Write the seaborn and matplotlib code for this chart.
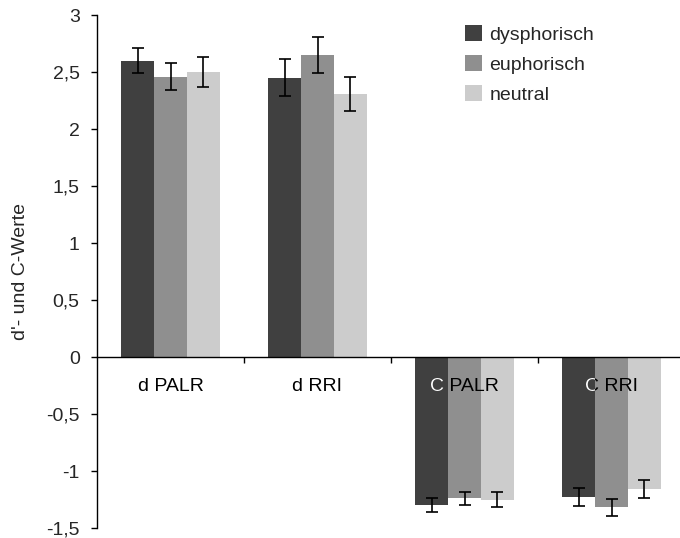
import matplotlib
matplotlib.use("Agg")
import matplotlib.pyplot as plt
from matplotlib.patches import Patch
import seaborn as sns
import pandas as pd

categories = ["d PALR", "d RRI", "C PALR", "C RRI"]
groups = ["dysphorisch", "euphorisch", "neutral"]
dysphorisch = [2.60, 2.45, -1.30, -1.23]
euphorisch = [2.46, 2.65, -1.24, -1.32]
neutral = [2.50, 2.31, -1.25, -1.16]
err_dysphorisch = [0.11, 0.16, 0.06, 0.08]
err_euphorisch = [0.12, 0.155, 0.06, 0.075]
err_neutral = [0.13, 0.15, 0.07, 0.08]
y_ticks = [-1.5, -1, -0.5, 0, 0.5, 1, 1.5, 2, 2.5, 3]
y_tick_labels = ["-1,5", "-1", "-0,5", "0", "0,5", "1", "1,5", "2", "2,5", "3"]
colors = ["#404040", "#8f8f8f", "#cccccc"]
y_label = "d'- und C-Werte"

sns.set_style("white")
plt.rcParams["font.family"] = ["Liberation Sans", "DejaVu Sans"]
FS = 14

values = [dysphorisch, euphorisch, neutral]
errors = [err_dysphorisch, err_euphorisch, err_neutral]
rows = []
for g, vals in zip(groups, values):
    for c, v in zip(categories, vals):
        rows.append({"Kategorie": c, "Gruppe": g, "Wert": v})
df = pd.DataFrame(rows)

AX_L = 97
fig = plt.figure(figsize=(6.8, 5.38), dpi=100)
ax = fig.add_axes([AX_L / 680, 10 / 538, (680 - AX_L) / 680, 513 / 538])
sns.barplot(data=df, x="Kategorie", y="Wert", hue="Gruppe", order=categories,
            hue_order=groups, palette=colors, width=0.673, gap=0, errorbar=None,
            saturation=1, legend=False, ax=ax, linewidth=0)

for cont, vals, errs in zip(ax.containers, values, errors):
    xs = [b.get_x() + b.get_width() / 2 for b in cont]
    ax.errorbar(xs, vals, yerr=errs, fmt="none", ecolor="black", elinewidth=1.2,
                capsize=4.3, capthick=1.2, zorder=5)

ax.set_xlim(-0.5, -0.5 + (680 - AX_L) / 147)
ax.set_ylim(-1.5, 3)
ax.set_yticks(y_ticks)
ax.set_yticklabels(y_tick_labels, fontsize=FS)
ax.set_xticks([0.5, 1.5, 2.5])
ax.set_xticklabels([])
ax.tick_params(axis="y", direction="out", length=4, width=1, color="black", pad=8.5, left=True)
ax.tick_params(axis="x", direction="out", length=4, width=1, color="black", bottom=True)
ax.set_xlabel("")
ax.set_ylabel(y_label, fontsize=FS)
ax.yaxis.set_label_coords((29 - AX_L) / (680 - AX_L), 0.5)
for s in ["top", "right"]:
    ax.spines[s].set_visible(False)
ax.spines["bottom"].set_position(("data", 0))
for s in ["bottom", "left"]:
    ax.spines[s].set_color("black")
    ax.spines[s].set_linewidth(1)

dark_bars = list(ax.containers[0])
for i, c in enumerate(categories):
    ax.text(i, -0.26, c, ha="center", va="center", fontsize=FS, color="black", zorder=6)
    if c.startswith("C"):
        t = ax.text(i, -0.26, c, ha="center", va="center", fontsize=FS, color="white",
                    zorder=7, clip_on=True)
        t.set_clip_path(dark_bars[i])

handles = [Patch(facecolor=col, edgecolor="none") for col in colors]
ax.legend(handles, groups, loc="upper left", bbox_to_anchor=(465 / 680, 1 - 25 / 538),
          bbox_transform=fig.transFigure, frameon=False, fontsize=FS,
          handlelength=0.88, handleheight=0.88, handletextpad=0.38, labelspacing=0.58,
          borderpad=0, borderaxespad=0)

fig.savefig("out.png", dpi=100)
